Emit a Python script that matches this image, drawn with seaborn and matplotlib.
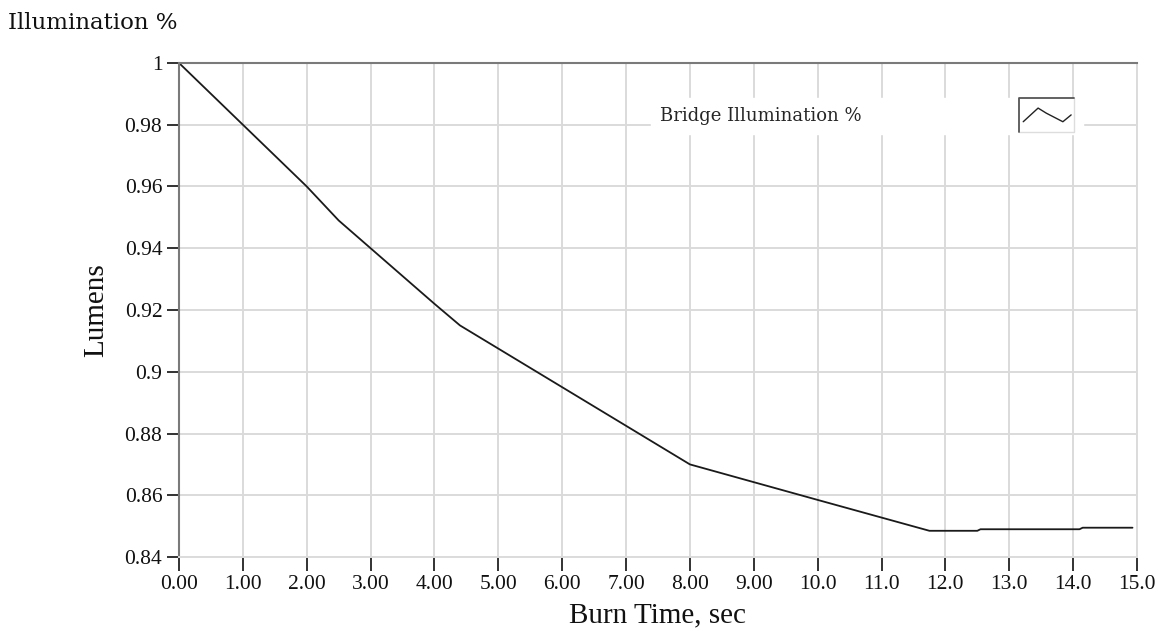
import matplotlib
matplotlib.use("Agg")
import matplotlib.pyplot as plt
import seaborn as sns
import pandas as pd
from matplotlib.legend_handler import HandlerBase
from matplotlib.lines import Line2D

# Bridge illumination fraction over burn time
burn_time = [0.0, 1.0, 2.0, 2.5, 3.0, 4.0, 4.4, 6.0, 7.0, 8.0, 10.0, 11.75, 12.5, 12.55, 14.1, 14.15, 14.93]
lumens = [1.0, 0.98, 0.96, 0.949, 0.94, 0.922, 0.915, 0.895, 0.8825, 0.870, 0.8585, 0.8485, 0.8485, 0.849, 0.849, 0.8495, 0.8495]

x_ticks = [0, 1, 2, 3, 4, 5, 6, 7, 8, 9, 10, 11, 12, 13, 14, 15]
x_tick_labels = ["0.00", "1.00", "2.00", "3.00", "4.00", "5.00", "6.00", "7.00",
                 "8.00", "9.00", "10.0", "11.0", "12.0", "13.0", "14.0", "15.0"]
y_ticks = [0.84, 0.86, 0.88, 0.90, 0.92, 0.94, 0.96, 0.98, 1.00]
y_tick_labels = ["0.84", "0.86", "0.88", "0.9", "0.92", "0.94", "0.96", "0.98", "1"]

series_name = "Bridge Illumination %"
df = pd.DataFrame({"Burn Time, sec": burn_time, "Lumens": lumens, "series": series_name})

sns.set_theme(style="whitegrid")
plt.rcParams["font.family"] = ["Liberation Serif", "DejaVu Serif"]

fig = plt.figure(figsize=(11.61, 6.33), dpi=100)
ax = fig.add_axes([0.1542, 0.12, 0.8251, 0.7805])

sns.lineplot(data=df, x="Burn Time, sec", y="Lumens", color="#1a1a1a", linewidth=1.3,
             ax=ax, legend=False)

ax.set_xlim(0, 15)
ax.set_ylim(0.84, 1.0)
ax.set_xticks(x_ticks)
ax.set_xticklabels(x_tick_labels)
ax.set_yticks(y_ticks)
ax.set_yticklabels(y_tick_labels)

ax.grid(True, color="#dadada", linewidth=1.4)
ax.set_facecolor("white")
for side in ("left", "top"):
    ax.spines[side].set_color("#7a7a7a")
    ax.spines[side].set_linewidth(1.5)
for side in ("right", "bottom"):
    ax.spines[side].set_color("#dcdcdc")
    ax.spines[side].set_linewidth(1.4)

ax.tick_params(axis="both", which="major", direction="out", color="#222222",
               labelsize=15.5, labelcolor="#111111")
ax.tick_params(axis="y", length=9, width=1.3, pad=3, left=True)
ax.tick_params(axis="x", length=10, width=1.3, pad=3, bottom=True)

ax.set_xlabel("Burn Time, sec", fontsize=21, color="#111111", labelpad=6)
ax.set_ylabel("Lumens", fontsize=21, color="#111111", labelpad=11)

fig.text(0.007, 0.963, "Illumination %", fontsize=16.5, color="#111111", va="center", ha="left",
         family=["DejaVu Serif"])


class FramedZigzag(HandlerBase):
    """Legend glyph: a small framed box holding a zigzag trace."""

    def create_artists(self, legend, orig_handle, xdescent, ydescent, width, height,
                       fontsize, trans):
        h = height * 2.7
        y0 = -ydescent - height * 0.85
        frame_dark_top = Line2D([xdescent, xdescent, xdescent + width],
                                [y0, y0 + h, y0 + h], color="#555555", lw=1.3, transform=trans)
        frame_light = Line2D([xdescent, xdescent + width, xdescent + width],
                             [y0, y0, y0 + h], color="#dddddd", lw=1.0, transform=trans)
        zx = [xdescent + width * f for f in (0.08, 0.35, 0.5, 0.8, 0.95)]
        zy = [y0 + h * f for f in (0.3, 0.7, 0.55, 0.3, 0.5)]
        zig = Line2D(zx, zy, color="#222222", lw=1.0, transform=trans)
        return [frame_light, frame_dark_top, zig]


handle = Line2D([], [], color="#222222")
leg = ax.legend([handle], [series_name], handler_map={Line2D: FramedZigzag()},
                loc="upper right", bbox_to_anchor=(0.953, 0.947), markerfirst=False,
                frameon=True, prop={"family": "DejaVu Serif", "size": 13},
                handlelength=3.05, handletextpad=8.7,
                borderpad=0.5, fancybox=False)
leg.get_frame().set_facecolor("white")
leg.get_frame().set_edgecolor("white")
leg.get_frame().set_alpha(1.0)

fig.savefig("out.png", dpi=100, facecolor="white")
